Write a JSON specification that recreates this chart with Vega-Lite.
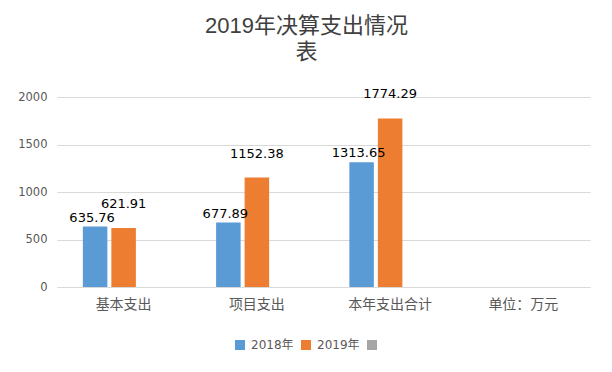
{
  "$schema": "https://vega.github.io/schema/vega-lite/v6.json",
  "width": 533,
  "height": 190,
  "autosize": {"type": "none"},
  "padding": {"left": 57, "top": 97, "right": 22, "bottom": 85},
  "background": "white",
  "title": {
    "text": ["2019年决算支出情况", "表"],
    "font": "Liberation Sans, Noto Sans CJK SC",
    "fontSize": 22,
    "fontWeight": "normal",
    "color": "#404040",
    "lineHeight": 26,
    "anchor": "middle",
    "dx": -17,
    "offset": 24
  },
  "config": {
    "view": {"stroke": null},
    "axis": {"labelColor": "#595959", "ticks": false, "title": null}
  },
  "data": {
    "values": [
      {"category": "基本支出", "series": "2018年", "value": 635.76},
      {"category": "基本支出", "series": "2019年", "value": 621.91},
      {"category": "项目支出", "series": "2018年", "value": 677.89},
      {"category": "项目支出", "series": "2019年", "value": 1152.38},
      {"category": "本年支出合计", "series": "2018年", "value": 1313.65},
      {"category": "本年支出合计", "series": "2019年", "value": 1774.29}
    ]
  },
  "encoding": {
    "x": {
      "field": "category",
      "type": "nominal",
      "sort": null,
      "scale": {
        "domain": ["基本支出", "项目支出", "本年支出合计", "单位：万元"],
        "paddingInner": 0.388,
        "paddingOuter": 0.194
      },
      "axis": {
        "labelAngle": 0,
        "labelFont": "Noto Sans CJK SC",
        "labelFontSize": 14,
        "labelPadding": 10,
        "domainColor": "#D9D9D9",
        "domainWidth": 1,
        "grid": false
      }
    },
    "xOffset": {
      "field": "series",
      "type": "nominal",
      "scale": {"domain": ["2018年", "2019年", "系列3"], "paddingInner": 0.14, "paddingOuter": 0}
    },
    "y": {
      "field": "value",
      "type": "quantitative",
      "scale": {"domain": [0, 2000], "nice": false},
      "axis": {
        "values": [0, 500, 1000, 1500, 2000],
        "format": "d",
        "domain": false,
        "gridColor": "#D9D9D9",
        "labelFont": "DejaVu Sans",
        "labelFontSize": 11.5,
        "labelPadding": 10
      }
    }
  },
  "layer": [
    {
      "mark": {"type": "bar"},
      "encoding": {
        "color": {
          "field": "series",
          "type": "nominal",
          "scale": {"domain": ["2018年", "2019年", "系列3"], "range": ["#5B9BD5", "#ED7D31", "#A5A5A5"]},
          "legend": {
            "title": null,
            "orient": "none",
            "direction": "horizontal",
            "legendX": 177,
            "legendY": 242,
            "symbolType": "square",
            "symbolSize": 100,
            "symbolStrokeWidth": 0,
            "symbolOpacity": 1,
            "labelFont": "DejaVu Sans, Noto Sans CJK SC",
            "labelFontSize": 12,
            "labelColor": "#595959",
            "labelOffset": 5,
            "columnPadding": 6,
            "labelExpr": "datum.label == '系列3' ? '' : datum.label"
          }
        }
      }
    },
    {
      "transform": [{"filter": "datum.series == '2018年'"}],
      "mark": {"type": "text", "baseline": "bottom", "dy": -2, "dx": -3, "font": "DejaVu Sans", "fontSize": 13, "color": "#000000"},
      "encoding": {
        "text": {"field": "value", "type": "quantitative", "format": ".2f"}
      }
    },
    {
      "transform": [{"filter": "datum.series == '2019年'"}],
      "mark": {"type": "text", "baseline": "bottom", "dy": -17, "font": "DejaVu Sans", "fontSize": 13, "color": "#000000"},
      "encoding": {
        "text": {"field": "value", "type": "quantitative", "format": ".2f"}
      }
    }
  ]
}
